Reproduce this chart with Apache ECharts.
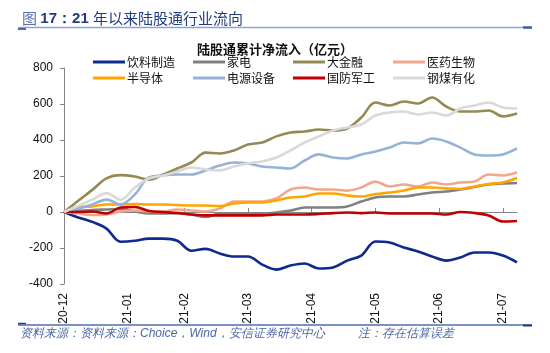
<!DOCTYPE html>
<html>
<head>
<meta charset="utf-8">
<script src="https://cdn.jsdelivr.net/npm/echarts@6/dist/echarts.min.js"></script>
<style>
html,body{margin:0;padding:0;background:#fff;}
#c{width:550px;height:353px;}
</style>
</head>
<body>
<div id="c"></div>
<script>
// x positions (trading-day index units) of the sampled points
const xs = [0,2,4,6,8,10,12,14,16,18,20,22,24,26,28,30,32,34,36,38,40,42,44,46,48,50,52,54,56,58,60,62,64];
// month tick positions and labels
const tickPos = [0,9,17,26,35,44,53,62];
const tickLabels = ['20-12','21-01','21-02','21-03','21-04','21-05','21-06','21-07'];

const seriesNames = ['饮料制造','家电','大金融','医药生物','半导体','电源设备','国防军工','钢煤有化'];

const yinliao = [0,-30,-55,-92,-165,-160,-148,-148,-160,-215,-205,-230,-247,-247,-292,-320,-297,-286,-314,-308,-270,-242,-164,-170,-197,-219,-247,-270,-253,-225,-225,-242,-280];
const jiadian = [0,6,11,14,17,3,-8,-8,-6,-14,-28,-8,-8,-8,-8,-3,8,25,25,25,31,58,81,86,86,97,108,114,125,139,153,158,161];
const dajinrong = [0,62,123,187,205,197,180,208,242,275,330,325,342,375,386,420,442,447,458,453,464,525,608,592,614,603,636,586,558,558,564,531,547];
const yiyao = [0,-8,-17,-14,3,8,3,3,14,8,3,19,58,58,58,75,125,136,125,125,119,136,169,142,153,142,164,153,164,169,208,203,219];
const bandaoti = [0,25,31,42,42,44,42,42,39,36,36,33,47,53,53,64,81,86,103,103,92,86,100,108,119,136,136,131,128,142,156,164,189];
const dianyuan = [0,19,42,69,42,97,192,203,208,208,231,258,275,270,253,247,242,286,320,303,297,320,336,358,386,381,408,392,358,320,314,320,353];
const guofang = [0,0,3,-8,25,28,6,0,-6,-14,-19,-19,-19,-19,-19,-14,-14,-14,-11,-6,-3,-6,-3,-8,-8,-8,-8,-14,0,-6,-19,-53,-50];
const gangmei = [0,34,69,105,69,136,186,203,225,247,236,231,253,270,281,303,342,386,420,453,470,486,536,553,558,542,553,536,575,592,608,581,575];

const values = [yinliao, jiadian, dajinrong, yiyao, bandaoti, dianyuan, guofang, gangmei];
const colors = ['#0D2A8E','#808080','#948A54','#F2A68C','#FFA500','#95B3D7','#C00000','#D9D9D9'];

const chart = echarts.init(document.getElementById('c'), null, {renderer:'canvas'});

const series = seriesNames.map((n,i)=>({
  name:n, type:'line', xAxisIndex:0, yAxisIndex:0,
  data: xs.map((x,j)=>[x, values[i][j]]),
  smooth:0.35, showSymbol:false, symbol:'none',
  lineStyle:{width:2.6, color:colors[i]}, itemStyle:{color:colors[i]},
  z: 2 + i
}));

const legends = seriesNames.map((n,i)=>({
  icon:'rect', itemWidth:32, itemHeight:3, itemGap:0, padding:0,
  left: 93 + (i%4)*100, top: i<4 ? 56 : 72,
  data:[n],
  textStyle:{fontSize:12, color:'#111', fontFamily:'Noto Sans CJK SC', padding:[0,0,0,-3]}
}));

chart.setOption({
  animation:false,
  textStyle:{fontFamily:'Liberation Sans, Arial, sans-serif'},
  title:[
    {text:'{a|图 }{b|17：21 }{c|年以来陆股通行业流向}', left:17, top:6,
     textStyle:{fontWeight:'normal', rich:{
       a:{fontSize:15, color:'#5B73A8', fontWeight:'normal', fontFamily:'Noto Sans CJK SC'},
       b:{fontSize:15, color:'#1F3B82', fontWeight:'bold', fontFamily:'Liberation Sans, Arial'},
       c:{fontSize:15, color:'#1F3B82', fontWeight:'normal', fontFamily:'Noto Sans CJK SC'}
     }}},
    {text:'陆股通累计净流入（亿元）', left:'center', top:38,
     textStyle:{fontSize:13, fontWeight:'bold', color:'#111', fontFamily:'Noto Sans CJK SC'}}
  ],
  legend: legends,
  grid:{left:64, right:33, top:68, bottom:69, containLabel:false},
  xAxis:[
    {type:'value', min:0, max:64, position:'bottom',
     axisLine:{show:true, onZero:true, lineStyle:{color:'#868686', width:1}},
     axisTick:{show:true, inside:true, length:4, customValues:tickPos, lineStyle:{color:'#868686'}},
     axisLabel:{show:false},
     splitLine:{show:false}},
    {type:'value', min:0, max:64, position:'bottom',
     axisLine:{show:false, onZero:false},
     axisTick:{show:false},
     axisLabel:{show:true, rotate:90, margin:9, fontSize:12, color:'#111',
       customValues:tickPos,
       formatter:(v)=>{const k=tickPos.indexOf(v); return k>=0?tickLabels[k]:'';}},
     splitLine:{show:false}}
  ],
  yAxis:{type:'value', min:-400, max:800, interval:200,
    axisLine:{show:true, lineStyle:{color:'#868686', width:1}},
    axisTick:{show:true, inside:false, length:4, lineStyle:{color:'#868686'}},
    axisLabel:{fontSize:12, color:'#111', margin:11},
    splitLine:{show:false}},
  series: series,
  graphic:[
    {type:'line', shape:{x1:18, y1:27.5, x2:523, y2:27.5}, style:{stroke:'#8AA4D6', lineWidth:1.5}, silent:true},
    {type:'line', shape:{x1:523, y1:27.5, x2:532, y2:27.5}, style:{stroke:'#3B5BA8', lineWidth:2.5}, silent:true},
    {type:'line', shape:{x1:18, y1:29, x2:26, y2:29}, style:{stroke:'#1F3B82', lineWidth:1.5}, silent:true},
    {type:'line', shape:{x1:18, y1:325, x2:532, y2:325}, style:{stroke:'#4F6FB0', lineWidth:1.5}, silent:true},
    {type:'line', shape:{x1:18, y1:323.5, x2:26, y2:323.5}, style:{stroke:'#1F3B82', lineWidth:1.5}, silent:true},
    {type:'line', shape:{x1:523, y1:325.5, x2:532, y2:325.5}, style:{stroke:'#1F3B82', lineWidth:2}, silent:true},
    {type:'text', left:20, top:328, style:{text:'资料来源：资料来源：Choice，Wind，安信证券研究中心', fontSize:12, fontStyle:'italic', fill:'#4A66A8', font:'italic 12px "Noto Sans CJK SC"'}},
    {type:'text', left:358, top:328, style:{text:'注：存在估算误差', fontSize:12, fontStyle:'italic', fill:'#4A66A8', font:'italic 12px "Noto Sans CJK SC"'}}
  ]
});
</script>
</body>
</html>
